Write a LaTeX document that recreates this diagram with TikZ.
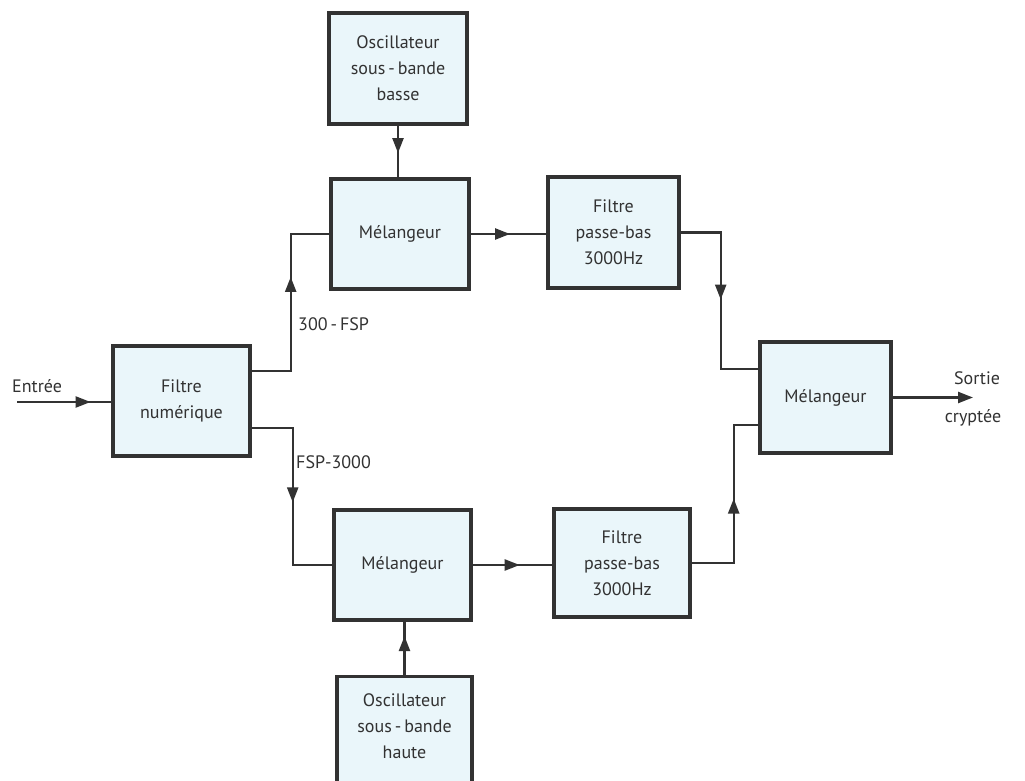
\documentclass[tikz,border=0pt]{standalone}
\usepackage{fontspec}
\setmainfont{PT Sans}
\usetikzlibrary{arrows.meta,calc,decorations.markings}
\definecolor{boxfill}{RGB}{234,246,250}
\definecolor{ink}{RGB}{50,50,50}
\tikzset{
  blk/.style={draw=ink, line width=3.4pt, fill=boxfill, minimum width=#1, inner sep=0pt, align=center,
              font=\fontsize{18}{26}\selectfont, text=ink},
  conn/.style={draw=ink, line width=2.4pt},
  arrowat/.style={postaction={decorate}, decoration={markings,
      mark=at position #1 with {\arrow{Triangle[length=15pt,width=11pt]}}}},
  lbl/.style={font=\fontsize{18}{26}\selectfont, text=ink, inner sep=0pt}
}
\begin{document}
\begin{tikzpicture}[x=1pt,y=-1pt]
\useasboundingbox[fill=white] (0,0) rectangle (1025,781);
% blocks
\node[blk=138pt, minimum height=111pt] (osc1) at (398,68.5) {Oscillateur\\sous\,-\,bande\\basse};
\node[blk=138pt, minimum height=110pt] (mel1) at (400,234) {Mélangeur};
\node[blk=131pt, minimum height=111pt] (fpb1) at (613.5,232.5) {Filtre\\passe-bas\\3000Hz};
\node[blk=137pt, minimum height=110pt] (fn) at (181.5,401) {Filtre\\numérique};
\node[blk=131pt, minimum height=111pt] (mel3) at (825.5,397.5) {Mélangeur};
\node[blk=137pt, minimum height=110pt] (mel2) at (402.5,565) {Mélangeur};
\node[blk=136pt, minimum height=108pt] (fpb2) at (622,563) {Filtre\\passe-bas\\3000Hz};
\node[blk=135pt, minimum height=111pt, anchor=north] (osc2) at (404.5,675) {\rule{0pt}{0pt}\\[-86pt]Oscillateur\\sous\,-\,bande\\haute};
% free ends
\coordinate (in) at (17,402);
\coordinate (out) at (973,395);
% connectors
\draw[conn, arrowat=0.78] (in) -- (in -| fn.west);
\draw[conn, arrowat=0.62] ($(fn.east)+(0,-30)$) -- ++(39,0) |- (mel1.west);
\draw[conn, arrowat=0.53] ($(fn.east)+(0,27)$) -- ++(41,0) |- (mel2.west);
\draw[conn, arrowat=0.53] (osc1.south) -- (osc1.south |- mel1.north);
\draw[conn, arrowat=0.73] (osc2.north) -- (osc2.north |- mel2.south);
\draw[conn, arrowat=0.52] (mel1.east) -- (mel1.east -| fpb1.west);
\draw[conn, arrowat=0.59] (mel2.east) -- (mel2.east -| fpb2.west);
\draw[conn, arrowat=0.5] (fpb1.east) -- ++(40,0) |- ($(mel3.west)+(0,-28.5)$);
\draw[conn, arrowat=0.52] (fpb2.east) -- ++(42,0) |- ($(mel3.west)+(0,27.5)$);
\draw[conn, -{Triangle[length=15pt,width=11pt]}] (mel3.east) -- (mel3.east -| out);
% labels
\node[lbl, anchor=west] (lin) at (12,386) {Entrée};
\node[lbl, anchor=west] (l300) at (298,324) {300\,-\,FSP};
\node[lbl, anchor=west] (l3000) at (296,462) {FSP-3000};
\node[lbl] (lsort) at (977,378) {Sortie};
\node[lbl] (lcryp) at (973,418) {cryptée};
\end{tikzpicture}
\end{document}
